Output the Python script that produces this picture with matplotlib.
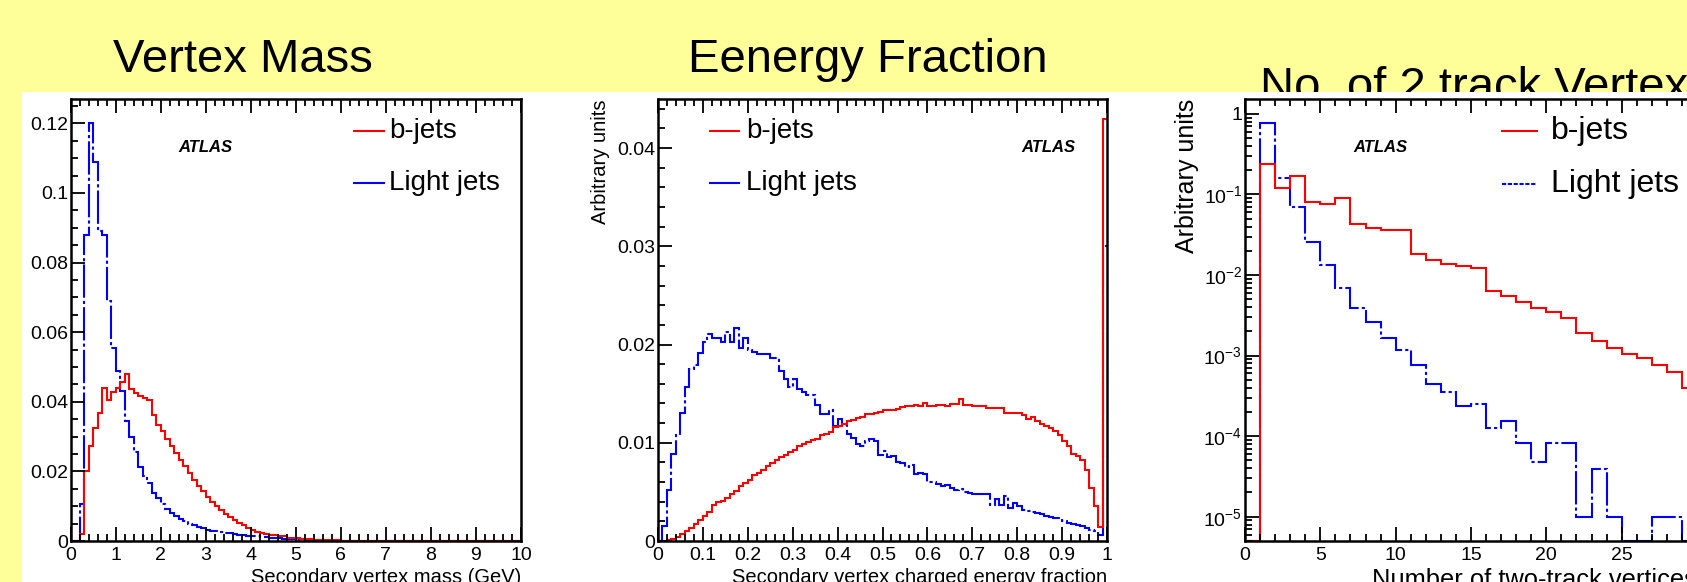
import numpy as np
import matplotlib
matplotlib.use("Agg")
import matplotlib.pyplot as plt
import matplotlib.ticker as mticker
from matplotlib.lines import Line2D
from matplotlib.patches import Rectangle

plt.rcParams["font.family"] = ["Liberation Sans", "DejaVu Sans"]
plt.rcParams["mathtext.fontset"] = "custom"
plt.rcParams["mathtext.rm"] = "Liberation Sans"
plt.rcParams["mathtext.it"] = "Liberation Sans:italic"
plt.rcParams["mathtext.bf"] = "Liberation Sans:bold"

# ── data ─────────────────────────────────────────────────────

titles = ["Vertex Mass", "Eenergy Fraction", "No. of 2 track Vertex"]
series_labels = ["b-jets", "Light jets"]

# secondary vertex mass, 0.1 GeV bins from 0 to 10 GeV
mass_b = [
    0.0, 0.0, 0.0019, 0.0200, 0.0272, 0.0324, 0.0367, 0.0441, 0.0405, 0.0429,
    0.0441, 0.0458, 0.0480, 0.0437, 0.0424, 0.0418, 0.0412, 0.0405, 0.0362, 0.0334,
    0.0315, 0.0294, 0.0272, 0.0253, 0.0234, 0.0215, 0.0196, 0.0176, 0.0157, 0.0143,
    0.0126, 0.0113, 0.0100, 0.0088, 0.0078, 0.0069, 0.0059, 0.0052, 0.0046, 0.0038,
    0.0032, 0.0027, 0.0024, 0.0021, 0.0017, 0.0017, 0.0013, 0.0013, 0.0010, 0.0010,
    0.0008, 0.0007, 0.0006, 0.0005, 0.0004, 0.0004, 0.0003, 0.0003, 0.0002, 0.0002,
] + [0.0] * 40
mass_light = [
    0.0, 0.0, 0.0105, 0.0880, 0.1200, 0.1090, 0.0890, 0.0880, 0.0690, 0.0555,
    0.0488, 0.0430, 0.0345, 0.0298, 0.0256, 0.0212, 0.0186, 0.0167, 0.0138, 0.0124,
    0.0107, 0.0093, 0.0081, 0.0072, 0.0064, 0.0057, 0.0050, 0.0045, 0.0041, 0.0037,
    0.0033, 0.0030, 0.0028, 0.0026, 0.0024, 0.0022, 0.0020, 0.0018, 0.0016, 0.0015,
    0.0014, 0.0013, 0.0012, 0.0011, 0.0010, 0.0009, 0.0008, 0.0007, 0.0006, 0.0005,
    0.0004, 0.0004, 0.0003, 0.0003, 0.0002, 0.0002, 0.0001, 0.0001, 0.0001, 0.0001,
] + [0.0] * 40

# charged energy fraction, 0.01 bins from 0 to 1
frac_b = [
    0.0, 0.0, 0.0001, 0.0002, 0.0004, 0.0007, 0.0010, 0.0013, 0.0017, 0.0021,
    0.0025, 0.0030, 0.0037, 0.0040, 0.0041, 0.0044, 0.0048, 0.0051, 0.0056, 0.0059,
    0.0062, 0.0067, 0.0069, 0.0072, 0.0076, 0.0079, 0.0082, 0.0086, 0.0088, 0.0091,
    0.0093, 0.0097, 0.0099, 0.0101, 0.0103, 0.0104, 0.0108, 0.0109, 0.0111, 0.0116,
    0.0117, 0.0119, 0.0122, 0.0123, 0.0125, 0.0126, 0.0129, 0.0129, 0.0130, 0.0131,
    0.0133, 0.0133, 0.0133, 0.0134, 0.0136, 0.0137, 0.0137, 0.0138, 0.0137, 0.0141,
    0.0137, 0.0137, 0.0138, 0.0138, 0.0137, 0.0139, 0.0139, 0.0145, 0.0138, 0.0138,
    0.0137, 0.0137, 0.0137, 0.0135, 0.0135, 0.0135, 0.0135, 0.0130, 0.0130, 0.0130,
    0.0130, 0.0128, 0.0124, 0.0126, 0.0122, 0.0119, 0.0117, 0.0115, 0.0112, 0.0108,
    0.0102, 0.0097, 0.0089, 0.0087, 0.0082, 0.0072, 0.0054, 0.0036, 0.0014, 0.0430,
]
frac_light = [
    0.0, 0.0015, 0.0052, 0.0089, 0.0108, 0.0130, 0.0157, 0.0175, 0.0179, 0.0191,
    0.0203, 0.0211, 0.0207, 0.0207, 0.0203, 0.0213, 0.0203, 0.0217, 0.0196, 0.0207,
    0.0194, 0.0192, 0.0190, 0.0190, 0.0190, 0.0186, 0.0186, 0.0173, 0.0165, 0.0157,
    0.0165, 0.0155, 0.0152, 0.0149, 0.0149, 0.0138, 0.0129, 0.0129, 0.0133, 0.0117,
    0.0124, 0.0118, 0.0109, 0.0105, 0.0099, 0.0097, 0.0102, 0.0104, 0.0102, 0.0088,
    0.0092, 0.0086, 0.0087, 0.0080, 0.0079, 0.0075, 0.0077, 0.0068, 0.0069, 0.0068,
    0.0060, 0.0060, 0.0058, 0.0056, 0.0057, 0.0054, 0.0052, 0.0053, 0.0050, 0.0049,
    0.0048, 0.0048, 0.0048, 0.0048, 0.0037, 0.0043, 0.0037, 0.0046, 0.0034, 0.0039,
    0.0036, 0.0032, 0.0031, 0.0030, 0.0029, 0.0027, 0.0025, 0.0024, 0.0023, 0.0023,
    0.0020, 0.0018, 0.0017, 0.0016, 0.0015, 0.0013, 0.0011, 0.0010, 0.0006, 0.0300,
]

# number of two-track vertices, unit bins from 0 to 30
ntrk_b = [
    0.0, 0.24, 0.12, 0.169, 0.080, 0.076, 0.091, 0.0424, 0.0386, 0.0365,
    0.0365, 0.0184, 0.0155, 0.0138, 0.0129, 0.0122, 0.0063, 0.0055, 0.0046, 0.0039,
    0.0035, 0.0029, 0.0019, 0.0015, 0.00125, 0.00106, 0.00094, 0.00077, 0.00063, 0.0004,
]
ntrk_light = [
    0.0, 0.77, 0.161, 0.070, 0.0257, 0.0132, 0.0070, 0.0039, 0.0026, 0.00166,
    0.00117, 0.00076, 0.00045, 0.00035, 0.00024, 0.000254, 0.000126, 0.000154, 0.000082, 0.000048,
    0.000082, 0.000082, 0.00001, 0.000039, 0.00001, 0.0, 0.0, 0.00001, 0.00001, 0.0,
]

mass_ticks = list(range(0, 11))
frac_ticks = [0, 0.1, 0.2, 0.3, 0.4, 0.5, 0.6, 0.7, 0.8, 0.9, 1]
ntrk_ticks = [0, 5, 10, 15, 20, 25, 30]
log_ticks = [1e-5, 1e-4, 1e-3, 1e-2, 1e-1, 1]
log_labels = [r"$\mathregular{10^{-5}}$", r"$\mathregular{10^{-4}}$",
              r"$\mathregular{10^{-3}}$", r"$\mathregular{10^{-2}}$",
              r"$\mathregular{10^{-1}}$", "1"]

# ── styling ───────────────────────────────────────────────────

W, H = 1687, 582
YELLOW = "#FFFF99"
RED = "#FF0000"
BLUE = "#0000FF"
DASHDOT = (0, (16, 1.5, 1.5, 1.5))
LW = 1.5

fig = plt.figure(figsize=(W / 100, H / 100), dpi=100, facecolor=YELLOW)

# white slide panel, drawn over the titles (third title is clipped by it)
fig.add_artist(Rectangle((22 / W, 0), 1, (H - 92) / H, transform=fig.transFigure,
                         facecolor="white", edgecolor="none", zorder=1))

title_pos = [(113, 72), (688, 72), (1260, 100)]
for (tx, ty), t in zip(title_pos, titles):
    fig.text(tx / W, 1 - ty / H, t, fontsize=34, ha="left", va="baseline", zorder=0.5)


def make_axes(x0, x1):
    top, bottom = 99, 541
    ax = fig.add_axes([x0 / W, 1 - bottom / H, (x1 - x0) / W, (bottom - top) / H])
    ax.set_zorder(2)
    ax.set_facecolor("none")
    for s in ax.spines.values():
        s.set_linewidth(1.8)
    ax.tick_params(which="both", direction="in", top=True, right=False,
                   labelsize=14, width=1.3)
    ax.tick_params(which="major", length=10)
    ax.tick_params(which="minor", length=5)
    ax.tick_params(axis="x", pad=4)
    ax.tick_params(axis="y", pad=2)
    return ax


def legend(ax, x0, x1, xt, ys, fs, blue_ls):
    styles = [(RED, "-"), (BLUE, blue_ls)]
    for y, lab, (c, ls) in zip(ys, series_labels, styles):
        ax.add_line(Line2D([x0, x1], [y, y], transform=ax.transAxes, color=c,
                           lw=LW, ls=ls, clip_on=False))
        ax.text(xt, y, lab, transform=ax.transAxes, fontsize=fs, va="center", ha="left")


def atlas(ax, x, y):
    ax.text(x, y, "ATLAS", transform=ax.transAxes, fontsize=12, fontweight="bold",
            fontstyle="italic", ha="center", va="center")


gfmt = mticker.FuncFormatter(lambda v, _: f"{v:g}")

# ── panel 1: vertex mass ─────────────────────────────────────
ax1 = make_axes(70.7, 521)
edges = np.linspace(0, 10, len(mass_b) + 1)
ax1.stairs(mass_light, edges, color=BLUE, lw=LW, ls=DASHDOT, baseline=None)
ax1.stairs(mass_b, edges, color=RED, lw=LW, baseline=None)
ax1.set_xlim(0, 10)
ax1.set_ylim(0, 0.127)
ax1.set_xticks(mass_ticks)
ax1.xaxis.set_minor_locator(mticker.MultipleLocator(0.2))
ax1.set_yticks([0, 0.02, 0.04, 0.06, 0.08, 0.1, 0.12])
ax1.yaxis.set_minor_locator(mticker.MultipleLocator(0.005))
ax1.xaxis.set_major_formatter(gfmt)
ax1.yaxis.set_major_formatter(gfmt)
ax1.text(1.0, -0.062, "Secondary vertex mass (GeV)", transform=ax1.transAxes,
         fontsize=14.5, ha="right", va="top")
legend(ax1, 0.629, 0.696, 0.707, [0.928, 0.810], 20, "-")
atlas(ax1, 0.30, 0.89)

# ── panel 2: charged energy fraction ────────────────────────
ax2 = make_axes(658, 1107)
edges = np.linspace(0, 1, len(frac_b) + 1)
ax2.stairs(frac_light, edges, color=BLUE, lw=LW, ls=DASHDOT, baseline=None)
ax2.stairs(frac_b, edges, color=RED, lw=LW, baseline=None)
ax2.set_xlim(0, 1)
ax2.set_ylim(0, 0.045)
ax2.set_xticks(frac_ticks)
ax2.xaxis.set_minor_locator(mticker.MultipleLocator(0.02))
ax2.set_yticks([0, 0.01, 0.02, 0.03, 0.04])
ax2.yaxis.set_minor_locator(mticker.MultipleLocator(0.002))
ax2.xaxis.set_major_formatter(gfmt)
ax2.yaxis.set_major_formatter(gfmt)
ax2.text(1.0, -0.062, "Secondary vertex charged energy fraction", transform=ax2.transAxes,
         fontsize=14.5, ha="right", va="top")
ax2.text(-0.127, 1.0, "Arbitrary units", transform=ax2.transAxes, rotation=90,
         fontsize=14.5, ha="center", va="top")
legend(ax2, 0.116, 0.180, 0.196, [0.928, 0.810], 20, "-")
atlas(ax2, 0.87, 0.89)

# ── panel 3: number of two-track vertices (log) ─────────────
ax3 = make_axes(1245, 1697)
ymin = 5e-6
edges = np.arange(len(ntrk_b) + 1)
ax3.set_yscale("log")
ax3.stairs(np.clip(ntrk_light, ymin, None), edges, color=BLUE, lw=LW, ls=DASHDOT, baseline=None)
ax3.stairs(np.clip(ntrk_b, ymin, None), edges, color=RED, lw=LW, baseline=None)
ax3.set_xlim(0, 30)
ax3.set_ylim(ymin, 1.53)
ax3.set_xticks(ntrk_ticks)
ax3.xaxis.set_minor_locator(mticker.MultipleLocator(1))
ax3.set_yticks(log_ticks)
ax3.set_yticklabels(log_labels)
ax3.yaxis.set_minor_locator(mticker.LogLocator(base=10, subs=np.arange(2, 10)))
ax3.yaxis.set_minor_formatter(mticker.NullFormatter())
ax3.xaxis.set_major_formatter(gfmt)
ax3.text(1.0, -0.062, "Number of two-track vertices", transform=ax3.transAxes,
         fontsize=18.4, ha="right", va="top")
ax3.text(-0.128, 1.0, "Arbitrary units", transform=ax3.transAxes, rotation=90,
         fontsize=18, ha="center", va="top")
legend(ax3, 0.569, 0.646, 0.677, [0.928, 0.808], 23, (0, (2, 0.8)))
atlas(ax3, 0.30, 0.89)

fig.savefig("out.png", dpi=100, facecolor=YELLOW)
